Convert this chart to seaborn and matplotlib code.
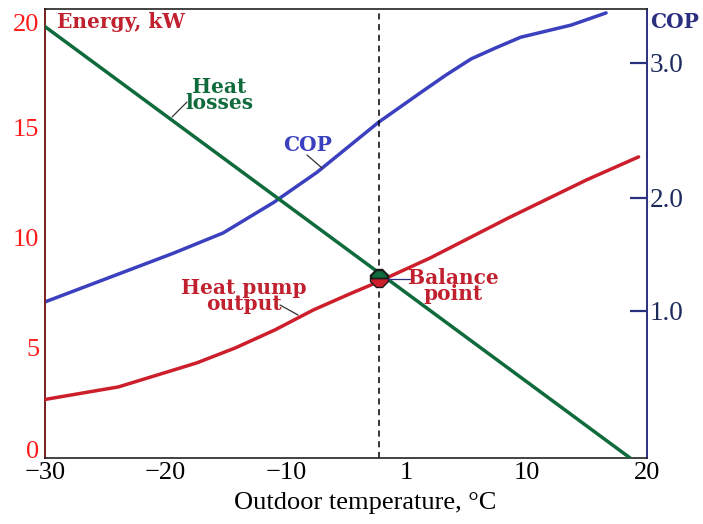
import numpy as np
import pandas as pd
import matplotlib
matplotlib.use("Agg")
import matplotlib.pyplot as plt
import matplotlib.transforms as mtransforms
import seaborn as sns

# ---- data ----
temp_loss = [-30, 18.6]
heat_loss = [19.6, 0.0]

temp_hp = [-30, -23.9, -17.4, -14.2, -10.9, -7.7, -4.5, -2.55, 2.0, 8.5, 15.0, 19.3]
hp_output = [2.66, 3.23, 4.32, 5.0, 5.82, 6.73, 7.5, 7.95, 9.09, 10.91, 12.64, 13.68]

temp_cop = [-30, -24.8, -19.35, -15.2, -11.0, -7.4, -2.3, 1.2, 3.3, 5.4, 7.4, 9.5, 13.7, 16.6]
cop = [1.08, 1.29, 1.51, 1.69, 1.96, 2.19, 2.56, 2.78, 2.91, 3.03, 3.11, 3.19, 3.28, 3.37]

balance_t = [-2.3]
balance_e = [8.2]

x_ticks = [-30, -20, -10, 0, 10, 20]
x_ticklabels = ["\u221230", "\u221220", "\u221210", "1", "10", "20"]
e_ticks = [0, 5, 10, 15, 20]
e_tickmarks = [5, 10, 15]
cop_ticks = [1.0, 2.0, 3.0]
cop_ticklabels = ["1.0", "2.0", "3.0"]
# energy-axis positions at which the (non-uniform) COP ticks sit
cop_ref = [-1.0, 1.0, 2.0, 3.0, 5.0]
cop_ref_energy = [-3.59, 6.68, 11.82, 17.95, 30.23]

# ---- style ----
sns.set_theme(style="white")
plt.rcParams["font.family"] = ["Liberation Serif", "DejaVu Serif"]

RED_LINE = "#cc1f2b"
RED_TEXT = "#c1212f"
RED_TICK = "#ff1a1a"
GREEN = "#0f6b3c"
BLUE = "#3b40bf"
NAVY = "#2b2f80"
MAROON = "#7a1f1f"

fig = plt.figure(figsize=(7.03, 5.24), dpi=100)
ax = fig.add_axes([45 / 703, 1 - 458 / 524, 602 / 703, 449 / 524])

ax.axvline(-2.3, color="black", lw=1.1, ls=(0, (4, 3)), zorder=1)

sns.lineplot(x=temp_loss, y=heat_loss, ax=ax, color=GREEN, lw=2.5, zorder=4)
sns.lineplot(x=temp_hp, y=hp_output, ax=ax, color=RED_LINE, lw=2.5, zorder=3)

ax.set_xlim(-30, 20)
ax.set_ylim(0, 20.4)
ax.set_xticks(x_ticks)
ax.set_xticklabels(x_ticklabels)
ax.set_yticks(e_ticks)
ax.set_yticklabels([str(v) for v in e_ticks])
ax.set_yticks(e_tickmarks, minor=True)

ax.tick_params(axis="x", which="major", direction="in", length=11, width=2.4,
               color="black", labelsize=19, pad=3, labelcolor="black")
ax.tick_params(axis="y", which="major", direction="in", length=0,
               labelsize=19, pad=4, labelcolor=RED_TICK)
ax.tick_params(axis="y", which="minor", direction="in", length=13, width=1.4,
               color=MAROON, left=True)

# nudge first/last energy labels as in the reference
lbls = ax.get_yticklabels()
lbls[0].set_transform(lbls[0].get_transform() +
                      mtransforms.ScaledTranslation(0, 9 / 100, fig.dpi_scale_trans))
lbls[-1].set_transform(lbls[-1].get_transform() +
                       mtransforms.ScaledTranslation(0, -5 / 100, fig.dpi_scale_trans))

for s in ["top", "bottom"]:
    ax.spines[s].set_color("#222222")
    ax.spines[s].set_linewidth(1.2)
ax.spines["left"].set_color(MAROON)
ax.spines["left"].set_linewidth(1.4)
ax.spines["right"].set_visible(False)

ax.set_xlabel("Outdoor temperature, \u00b0C", fontsize=19, color="black")
ax.xaxis.set_label_coords((365 - 45) / 602, -0.075)
ax.set_ylabel("")

# ---- COP axis ----
ax2 = ax.twinx()
def fwd(c):
    return np.interp(c, cop_ref, cop_ref_energy)
def inv(e):
    return np.interp(e, cop_ref_energy, cop_ref)
ax2.set_yscale("function", functions=(fwd, inv))
sns.lineplot(x=temp_cop, y=cop, ax=ax2, color=BLUE, lw=2.5, zorder=3)
ax2.set_ylim(float(inv(0.0)), float(inv(20.4)))
ax2.set_yticks(cop_ticks)
ax2.set_yticklabels(cop_ticklabels)
ax2.yaxis.set_minor_locator(matplotlib.ticker.NullLocator())
ax2.tick_params(axis="y", direction="in", length=12, width=1.6, color=NAVY,
                labelsize=19.5, pad=2, labelcolor="#1c2a5c")
ax2.spines["right"].set_color(NAVY)
ax2.spines["right"].set_linewidth(1.4)
for s in ["top", "bottom", "left"]:
    ax2.spines[s].set_visible(False)
ax2.set_ylabel("")
ax2.set_xlim(-30, 20)

# balance point marker
ax.plot(balance_t, balance_e, marker="8", ms=13, mfc=GREEN, mec="#1a1a1a",
        mew=1.0, zorder=6, ls="none")
ax.plot(balance_t, balance_e, marker="8", ms=13, fillstyle="bottom",
        mfc=RED_LINE, mec="#1a1a1a", mew=1.0, zorder=7, ls="none")
ax2.set_zorder(ax.get_zorder() - 1)
ax.patch.set_visible(False)

# ---- annotations (figure pixel coords) ----
def fx(px):
    return px / 703
def fy(py):
    return 1 - py / 524

bold = dict(fontweight="bold", fontsize=14.5, family=["DejaVu Serif"])
fig.text(fx(57), fy(22), "Energy, kW", color=RED_TEXT, ha="left", va="center", **bold)
fig.text(fx(650), fy(22), "COP", color=NAVY, ha="left", va="center", **bold)
fig.text(fx(219), fy(95), "Heat\nlosses", color=GREEN, ha="center", va="center",
         linespacing=0.75, **bold)
fig.text(fx(308), fy(145), "COP", color=BLUE, ha="center", va="center", **bold)
fig.text(fx(244), fy(296), "Heat pump\noutput", color=RED_TEXT, ha="center", va="center",
         linespacing=0.75, **bold)
fig.text(fx(453), fy(286), "Balance\npoint", color=RED_TEXT, ha="center", va="center",
         linespacing=0.75, **bold)

def leader(x0, y0, x1, y1, color):
    fig.add_artist(matplotlib.lines.Line2D([fx(x0), fx(x1)], [fy(y0), fy(y1)],
                                           color=color, lw=0.9, transform=fig.transFigure))

leader(187, 102, 172, 117, "#333333")
leader(307, 155, 322, 168, "#333333")
leader(280, 305, 298, 315, "#333333")
leader(388, 279, 410, 279, NAVY)

fig.savefig("out.png", dpi=100)
